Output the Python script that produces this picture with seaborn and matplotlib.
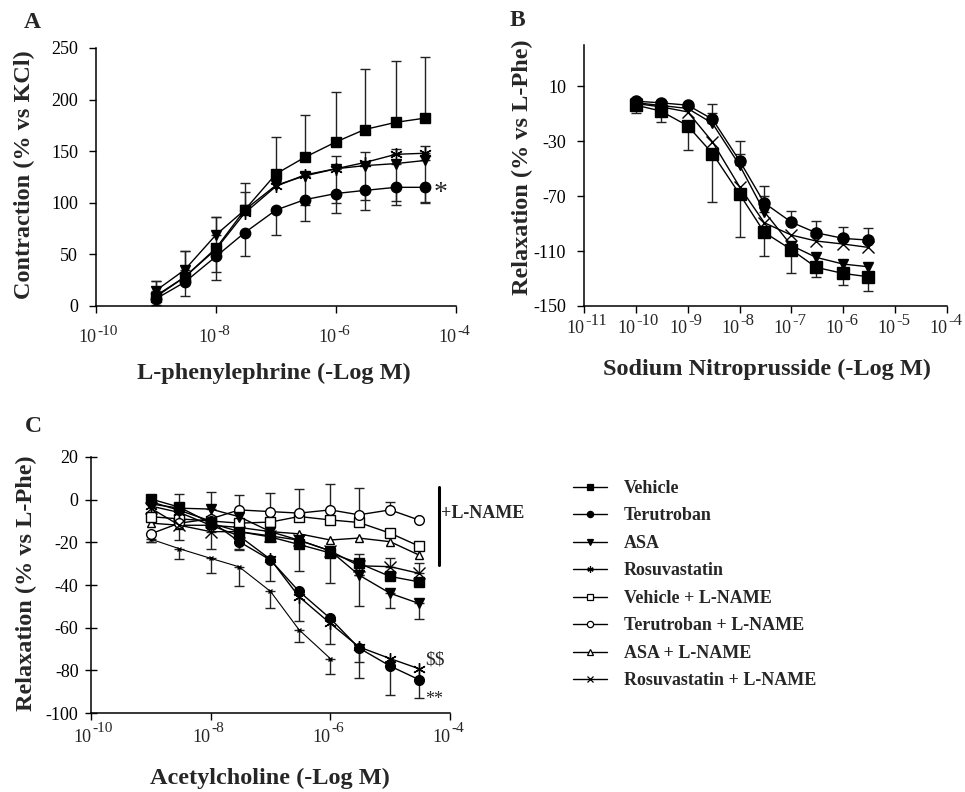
import numpy as np
import pandas as pd
import matplotlib
matplotlib.use('Agg')
import matplotlib.pyplot as plt
from matplotlib.lines import Line2D
import seaborn as sns

# ── DATA ─────────────────────────────────────────────
# panel A: L-phenylephrine contraction (% vs KCl)
conc_a = [1e-9, 3e-9, 1e-8, 3e-8, 1e-7, 3e-7, 1e-6, 3e-6, 1e-5, 3e-5]
a_veh = [9, 28, 56, 93, 128, 144, 159, 171, 178, 182]
a_veh_hi = [15, 25, 30, 26, 36, 41, 48, 59, 59, 59]
a_ter = [7, 23, 48, 71, 93, 103, 109, 112, 115, 115]
a_ter_lo = [6, 13, 23, 23, 24, 21, 19, 19, 17, 15]
a_asa = [15, 35, 69, 93, 117, 126, 133, 136, 138, 141]
a_asa_hi = [9, 18, 17, 0, 0, 0, 0, 0, 0, 0]
a_asa_lo = [0, 0, 0, 0, 0, 28, 33, 33, 36, 40]
a_ros = [10, 28, 55, 90, 116, 127, 133, 139, 147, 148]
a_ros_hi = [0, 0, 0, 20, 0, 0, 12, 10, 5, 7]
a_ros_lo = [0, 0, 22, 0, 0, 0, 0, 0, 0, 0]
a_ticks = [-10, -8, -6, -4]

# panel B: sodium nitroprusside relaxation (% vs L-Phe)
conc_b = [1e-10, 3e-10, 1e-9, 3e-9, 1e-8, 3e-8, 1e-7, 3e-7, 1e-6, 3e-6]
b_veh = [-3.8, -8, -18.8, -39, -68.5, -96.4, -109, -121.9, -126.3, -128.7]
b_veh_lo = [5.6, 8.2, 17.4, 35, 31.5, 17, 16.7, 6.7, 8.4, 10.2]
b_ter = [-0.9, -2.1, -3.8, -14, -44.3, -75, -89, -96.7, -100.8, -102]
b_ter_hi = [0, 0, 0, 10.7, 14.5, 12, 8.4, 8.7, 8, 8.5]
b_asa = [-2, -4, -6.2, -17, -47.5, -81.4, -106, -114.6, -119.5, -121.4]
b_asa_hi = [0, 0, 0, 7.6, 8.5, 11.8, 0, 0, 0, 0]
b_ros = [-2.6, -5, -8.7, -30.5, -63.2, -89.4, -98.4, -102.7, -104.9, -107.3]
b_ticks = [-11, -10, -9, -8, -7, -6, -5, -4]

# panel C: acetylcholine relaxation (% vs L-Phe)
conc_c = [1e-9, 3e-9, 1e-8, 3e-8, 1e-7, 3e-7, 1e-6, 3e-6, 1e-5, 3e-5]
c_veh = [0.3, -3.5, -11, -15, -17.5, -21, -25, -29.8, -36, -38.5]
c_veh_hi = [0, 6, 0, 0, 0, 0, 0, 0, 0, 0]
c_veh_lo = [0, 0, 0, 8, 0, 12.4, 14, 0, 0, 0]
c_ter = [-1, -5, -10, -19.7, -28.3, -43, -55.7, -69.5, -78, -84.3]
c_ter_lo = [0, 0, 0, 4, 10, 14, 12, 14, 13.7, 8.5]
c_asa = [-2, -4, -4.4, -8, -15, -19, -24, -35.3, -43.9, -48.6]
c_asa_hi = [0, 0, 8, 0, 0, 0, 0, 10, 0, 0]
c_asa_lo = [0, 0, 0, 0, 0, 0, 0, 14.7, 7, 7.5]
c_ros = [-3, -6, -12, -17, -28, -45.5, -58, -69, -74.5, -79.2]
c_ros_lo = [0, 0, 0, 0, 0, 0, 0, 7, 0, 0]
c_vehL = [-8, -9, -10, -11, -10.5, -7.9, -9.5, -10.7, -15.7, -21.7]
c_terL = [-16, -11, -9, -4.8, -5.6, -6.3, -4.8, -7.1, -4.8, -9.5]
c_terL_hi = [0, 0, 0, 7, 8.7, 11.4, 12, 12.5, 3.5, 0]
c_terL_lo = [3.7, 0, 0, 0, 0, 0, 0, 0, 0, 0]
c_asaL = [-11, -12, -12, -13, -15, -16, -18.9, -18, -19.7, -25.9]
c_rosL = [-4, -12, -15, -15, -17, -19, -24, -31, -31.4, -34.5]
c_rosL_hi = [0, 0, 0, 0, 0, 0, 0, 0, 4, 4.7]
c_rosL_lo = [0, 7, 8, 0, 0, 0, 0, 0, 0, 0]
# thin unmarked trace (first 7 concentrations)
c_thin = [-18.5, -23, -27.5, -31.5, -43, -61, -74.5]
c_thin_lo = [1.5, 4.8, 7, 9, 8, 5.7, 7.3]
c_ticks = [-10, -8, -6, -4]

legend_labels = ['Vehicle', 'Terutroban', 'ASA', 'Rosuvastatin',
                 'Vehicle + L-NAME', 'Terutroban + L-NAME',
                 'ASA + L-NAME', 'Rosuvastatin + L-NAME']

# ── STYLE ────────────────────────────────────────────
sns.set_theme(style="ticks")
plt.rcParams['font.family'] = ['Liberation Serif', 'DejaVu Serif']
plt.rcParams['axes.unicode_minus'] = False

ASTER = (6, 2, 0)
W, H = 965, 792
fig = plt.figure(figsize=(W / 100, H / 100), dpi=100)


def add_ax(left, top, right, bottom):
    return fig.add_axes([left / W, 1 - bottom / H, (right - left) / W, (bottom - top) / H])


def series(ax, x, y, marker, ms, filled=True, lo=None, hi=None, lw=1.0):
    x = np.asarray(x)
    y = np.asarray(y, dtype=float)
    for err, sign in ((lo, -1), (hi, 1)):
        if err is None:
            continue
        err = np.asarray(err, dtype=float)
        m = err > 0
        if not m.any():
            continue
        e = np.zeros((2, m.sum()))
        e[0 if sign < 0 else 1] = err[m]
        ax.errorbar(x[m], y[m], yerr=e, fmt='none', ecolor='#222222',
                    elinewidth=1.0, capsize=3.7, capthick=1.0, zorder=1)
    sns.lineplot(x=x, y=y, ax=ax, color='black', linewidth=lw, marker=marker,
                 markersize=ms, markeredgecolor='black', markeredgewidth=1.0,
                 markerfacecolor='black' if filled else 'white', zorder=3,
                 estimator=None, sort=False)


def style_axis(ax, exps, ylim, yticks, xdir='out', ydir='out'):
    ticks_x = [10.0 ** e for e in exps]
    ax.set_xscale('log')
    ax.set_xlim(ticks_x[0], ticks_x[-1])
    ax.set_xticks(ticks_x)
    ax.xaxis.set_minor_locator(matplotlib.ticker.NullLocator())
    ax.set_ylim(*ylim)
    ax.set_yticks(yticks)
    ax.set_xlabel('')
    ax.set_ylabel('')
    for s in ('top', 'right'):
        ax.spines[s].set_visible(False)
    for s in ('left', 'bottom'):
        ax.spines[s].set_linewidth(1.1)
        ax.spines[s].set_color('black')
    ax.tick_params(axis='x', direction=xdir, length=5, width=1, labelbottom=False,
                   colors='black')
    ax.tick_params(axis='y', direction=ydir, length=5, width=1, labelsize=13,
                   colors='black', pad=8)
    ax.patch.set_alpha(0)


def power_labels(ax, exps, base_off, exp_off, exp_size):
    # "10" right of the tick, exponent left-aligned at the tick, raised
    for e in exps:
        kw = dict(xy=(10.0 ** e, 0), xycoords=('data', 'axes fraction'),
                  textcoords='offset pixels', va='baseline', annotation_clip=False)
        ax.annotate('10', xytext=(0, -base_off), ha='right', fontsize=13, **kw)
        ax.annotate(str(e), xytext=(1, -exp_off), ha='left', fontsize=exp_size, **kw)


# ── A ────────────────────────────────────────────────
axA = add_ax(96, 48, 456, 306)
series(axA, conc_a, a_veh, 's', 7.5, hi=a_veh_hi)
series(axA, conc_a, a_ter, 'o', 7.5, lo=a_ter_lo)
series(axA, conc_a, a_asa, 'v', 7.5, lo=a_asa_lo, hi=a_asa_hi)
series(axA, conc_a, a_ros, ASTER, 9, lo=a_ros_lo, hi=a_ros_hi)
style_axis(axA, a_ticks, (0, 250), [0, 50, 100, 150, 200, 250])
power_labels(axA, a_ticks, 36, 29, 11)
axA.text(4.3e-5, 109, '*', fontsize=20, ha='left', va='center')

# ── B ────────────────────────────────────────────────
axB = add_ax(584, 45, 947, 306)
series(axB, conc_b, b_veh, 's', 8, lo=b_veh_lo)
series(axB, conc_b, b_ter, 'o', 8, hi=b_ter_hi)
series(axB, conc_b, b_asa, 'v', 7.5, hi=b_asa_hi)
series(axB, conc_b, b_ros, 'x', 8.5)
style_axis(axB, b_ticks, (-150, 40), [-150, -110, -70, -30, 10])
power_labels(axB, b_ticks, 27, 19, 12)

# ── C ────────────────────────────────────────────────
axC = add_ax(91, 457, 450, 713)
series(axC, conc_c[:7], c_thin, 'x', 3, lo=c_thin_lo, lw=0.8)
series(axC, conc_c, c_asaL, '^', 6, filled=False)
series(axC, conc_c, c_vehL, 's', 6.5, filled=False)
series(axC, conc_c, c_terL, 'o', 7, filled=False, lo=c_terL_lo, hi=c_terL_hi)
series(axC, conc_c, c_rosL, 'x', 8, lo=c_rosL_lo, hi=c_rosL_hi)
series(axC, conc_c, c_asa, 'v', 6.5, lo=c_asa_lo, hi=c_asa_hi)
series(axC, conc_c, c_veh, 's', 6.5, lo=c_veh_lo, hi=c_veh_hi)
series(axC, conc_c, c_ros, ASTER, 9, lo=c_ros_lo)
series(axC, conc_c, c_ter, 'o', 7, lo=c_ter_lo)
style_axis(axC, c_ticks, (-100, 20), [-100, -80, -60, -40, -20, 0, 20], ydir='inout')
axC.tick_params(axis='y', length=8, pad=5)
power_labels(axC, c_ticks, 29, 19, 11)
axC.text(3.9e-5, -75, r'\$\$', fontsize=14, ha='left', va='center')
axC.text(3.8e-5, -93.5, '**', fontsize=13, ha='left', va='center')
axC.plot([6.5e-5, 6.5e-5], [6, -30.5], color='black', lw=2.2, clip_on=False)
axC.text(7.2e-5, -6.3, '+L-NAME', fontsize=13, fontweight='bold', ha='left',
         va='center', clip_on=False)

# ── LABELS ───────────────────────────────────────────
lab = dict(fontsize=17.5, fontweight='bold', ha='center', va='center')
fig.text(24 / W, 1 - 175 / H, 'Contraction (% vs KCl)', rotation=90, **lab)
fig.text(274 / W, 1 - 373 / H, 'L-phenylephrine (-Log M)', **lab)
fig.text(522 / W, 1 - 167 / H, 'Relaxation (% vs L-Phe)', rotation=90, **lab)
fig.text(767 / W, 1 - 369 / H, 'Sodium Nitroprusside (-Log M)', **lab)
fig.text(26 / W, 1 - 583 / H, 'Relaxation (% vs L-Phe)', rotation=90, **lab)
fig.text(270 / W, 1 - 778 / H, 'Acetylcholine (-Log M)', **lab)
for letter, px, py in (('A', 32, 22), ('B', 517, 20), ('C', 33, 427)):
    fig.text(px / W, 1 - py / H, letter, fontsize=17, fontweight='bold',
             ha='center', va='center')

# ── LEGEND ───────────────────────────────────────────
leg_markers = [('s', True), ('o', True), ('v', True), (ASTER, True),
               ('s', False), ('o', False), ('^', False), ('x', True)]
handles = [Line2D([], [], color='black', lw=1, marker=m, markersize=4.5,
                  markeredgecolor='black', markeredgewidth=0.9,
                  markerfacecolor='black' if f else 'white')
           for m, f in leg_markers]
fig.legend(handles, legend_labels, loc='upper left',
           bbox_to_anchor=(573 / W, 1 - 480 / H), frameon=False,
           prop={'family': 'Liberation Serif', 'weight': 'bold', 'size': 13},
           handlelength=1.9, handletextpad=0.9, labelspacing=0.58,
           borderpad=0, borderaxespad=0)

fig.savefig('out.png', dpi=100)
plt.close(fig)
